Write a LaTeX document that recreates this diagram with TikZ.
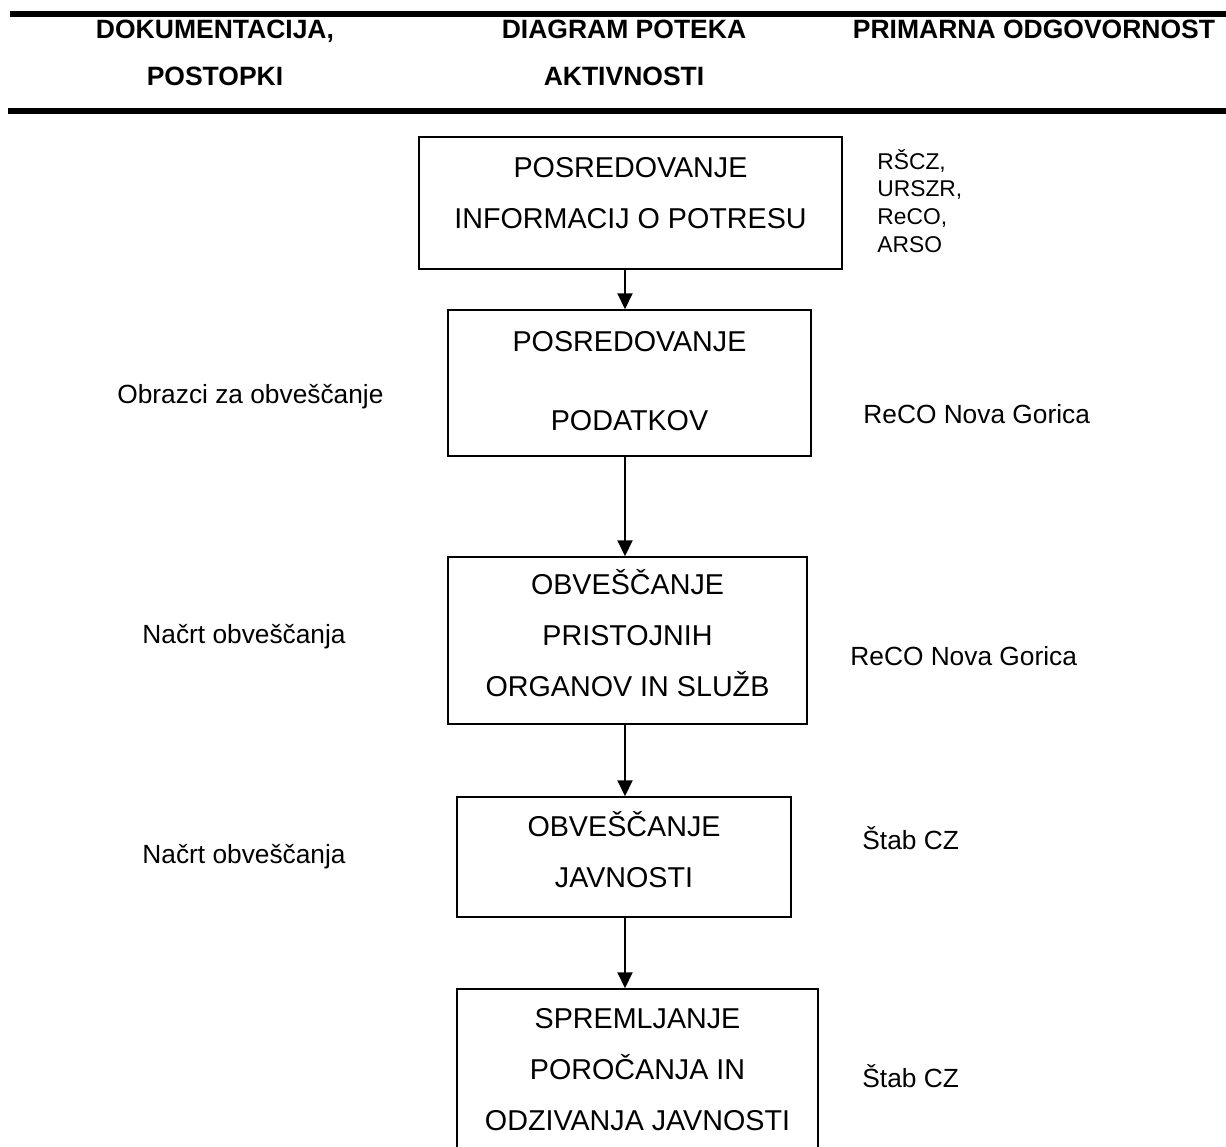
\documentclass[tikz,border=0pt]{standalone}
\usepackage{fontspec}
\setmainfont{Liberation Sans}
\usetikzlibrary{arrows.meta}

\tikzset{
  flowbox/.style={draw, line width=0.75pt, inner sep=0pt},
  boxtext/.style={align=center, inner sep=0pt, anchor=base,
    font=\fontsize{14.35pt}{25.5pt}\selectfont},
  sidetext/.style={inner sep=0pt, anchor=base west,
    font=\fontsize{13.15pt}{16pt}\selectfont},
  smalltext/.style={align=left, inner sep=0pt, anchor=base west,
    font=\fontsize{11.4pt}{13.8pt}\selectfont},
  headtext/.style={align=center, inner sep=0pt, anchor=base,
    font=\bfseries\fontsize{13.25pt}{23.5pt}\selectfont},
  flowarrow/.style={line width=1pt, -{Triangle[width=7.5pt,length=8pt]}}
}

\begin{document}
\begin{tikzpicture}[x=0.5pt,y=-0.5pt]
                        \clip (0,0) rectangle (1226,1146);
                        {

                        % Drawing header rules
                        \fill (10,11) rectangle (1226,17);%
                        \fill (8,108) rectangle (1226,114);%

                        % Header texts (anchored at last line)
                        \node[headtext] (hdoc) at (215,85) {DOKUMENTACIJA,\\POSTOPKI};%
                        \node[headtext] (hdiag) at (624,85) {DIAGRAM POTEKA\\AKTIVNOSTI};%
                        \node[headtext] (hresp) at (1034,38) {PRIMARNA ODGOVORNOST};%

                        % Drawing boxes
                        \node[flowbox, minimum width=211.5pt, minimum height=66pt] (b1) at (630.5,203) {};%
                        \node[flowbox, minimum width=181.5pt, minimum height=73pt] (b2) at (629.5,383) {};%
                        \node[flowbox, minimum width=179.5pt, minimum height=83.5pt] (b3) at (627.5,640.5) {};%
                        \node[flowbox, minimum width=167pt, minimum height=60pt] (b4) at (624,857) {};%
                        \node[flowbox, minimum width=180.5pt, minimum height=105.5pt] (b5) at (637.5,1094.5) {};%

                        % Box texts
                        \node[boxtext] (t1) at (630.5,228) {POSREDOVANJE\\INFORMACIJ O POTRESU};%
                        \node[boxtext, font=\fontsize{14.35pt}{39.5pt}\selectfont] (t2) at (629.5,430) {POSREDOVANJE\\PODATKOV};%
                        \node[boxtext] (t3) at (627.5,696) {OBVEŠČANJE\\PRISTOJNIH\\ORGANOV IN SLUŽB};%
                        \node[boxtext] (t4) at (624,887) {OBVEŠČANJE\\JAVNOSTI};%
                        \node[boxtext] (t5) at (637.5,1130) {SPREMLJANJE\\POROČANJA IN\\ODZIVANJA JAVNOSTI};%

                        % Drawing arrows
                        \coordinate (ax) at (625,0);%
                        \draw[flowarrow] (b1.south -| ax) -- (b2.north -| ax);%
                        \draw[flowarrow] (b2.south -| ax) -- (b3.north -| ax);%
                        \draw[flowarrow] (b3.south -| ax) -- (b4.north -| ax);%
                        \draw[flowarrow] (b4.south -| ax) -- (b5.north -| ax);%

                        % Documentation column
                        \node[sidetext] (d2) at (117,403) {Obrazci za obveščanje};%
                        \node[sidetext] (d3) at (142,643) {Načrt obveščanja};%
                        \node[sidetext] (d4) at (142,863) {Načrt obveščanja};%

                        % Responsibility column
                        \node[smalltext] (r1) at (877,252) {RŠCZ,\\URSZR,\\ReCO,\\ARSO};%
                        \node[sidetext] (r2) at (863,423) {ReCO Nova Gorica};%
                        \node[sidetext] (r3) at (850,665) {ReCO Nova Gorica};%
                        \node[sidetext] (r4) at (862,849) {Štab CZ};%
                        \node[sidetext] (r5) at (862,1087) {Štab CZ};%
                        }
\end{tikzpicture}
\end{document}
